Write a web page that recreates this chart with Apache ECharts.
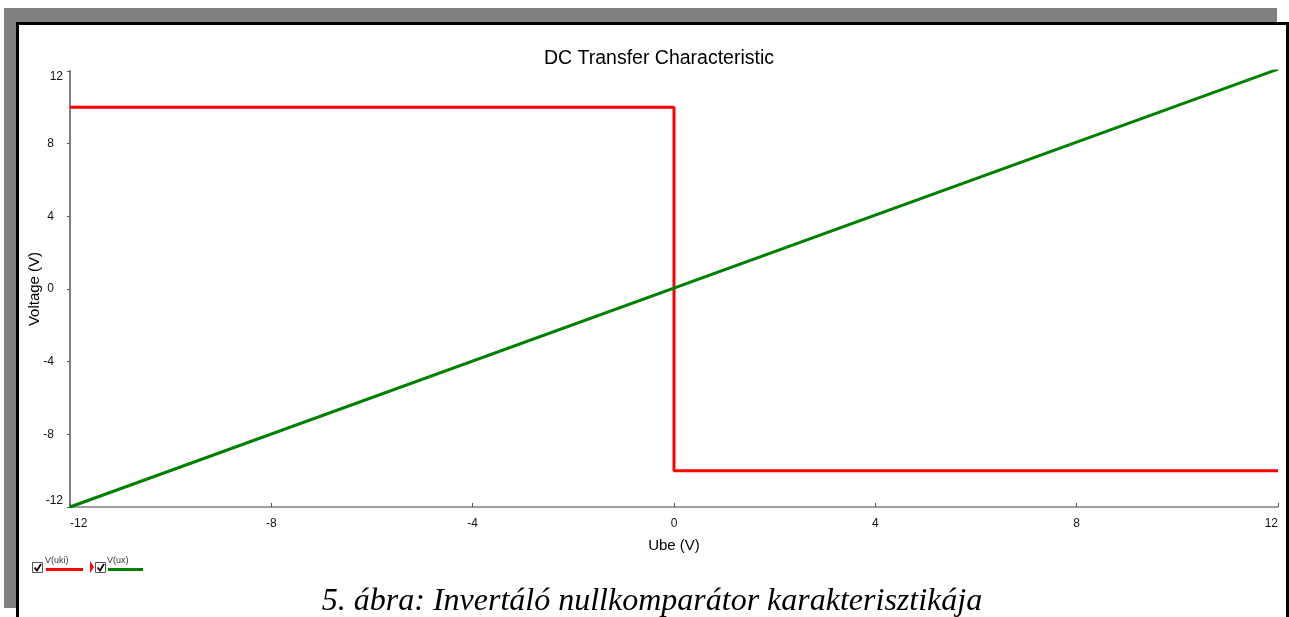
<!DOCTYPE html>
<html>
<head>
<meta charset="utf-8">
<script src="https://cdn.jsdelivr.net/npm/echarts@6/dist/echarts.min.js"></script>
<style>
html,body{margin:0;padding:0;background:#fff;}
#c{width:1289px;height:617px;}
</style>
</head>
<body>
<div id="c"></div>
<script>
const chartTitle = 'DC Transfer Characteristic';
const caption = '5. ábra: Invertáló nullkomparátor karakterisztikája';
const xTicks = [-12, -8, -4, 0, 4, 8, 12];
const yTicks = [-12, -8, -4, 0, 4, 8, 12];
const ukiX = [-12, 0, 0, 12];
const ukiY = [10, 10, -10, -10];
const uxX = [-12, 12];
const uxY = [-12, 12.1];
const seriesNames = ['V(uki)', 'V(ux)'];

const chart = echarts.init(document.getElementById('c'));
const font = '"Liberation Sans", Arial, sans-serif';
const pairs = (xs, ys) => xs.map((x, i) => [x, ys[i]]);

function checkbox(x, y) {
  return [
    {type: 'rect', shape: {x: x, y: y, width: 10, height: 10}, style: {fill: '#fff', stroke: '#555', lineWidth: 1}, z: 10},
    {type: 'polyline', shape: {points: [[x + 2, y + 5], [x + 4.5, y + 8], [x + 8.5, y + 1.5]]}, style: {stroke: '#000', lineWidth: 1.8, fill: null}, z: 10}
  ];
}

const yMin = yTicks[0], yMax = yTicks[yTicks.length - 1];

chart.setOption({
  animation: false,
  backgroundColor: '#fff',
  title: {
    text: chartTitle, left: 654, top: 44, textAlign: 'center',
    textStyle: {fontFamily: font, fontSize: 19.5, fontWeight: 'normal', color: '#000'}
  },
  grid: {left: 70, right: 11, top: 71, bottom: 110},
  xAxis: {
    type: 'value', min: xTicks[0], max: xTicks[xTicks.length - 1], interval: 4,
    name: 'Ube (V)', nameLocation: 'middle', nameGap: 31,
    nameTextStyle: {fontFamily: font, fontSize: 15, color: '#000'},
    axisLine: {show: true, onZero: false, lineStyle: {color: '#808080', width: 1.5}},
    axisTick: {show: true, inside: true, length: 4, lineStyle: {color: '#555'}},
    axisLabel: {fontFamily: font, fontSize: 12, color: '#111', margin: 11,
                alignMinLabel: 'left', alignMaxLabel: 'right'},
    splitLine: {show: false}
  },
  yAxis: {
    type: 'value', min: yMin, max: yMax, interval: 4,
    name: 'Voltage (V)', nameLocation: 'middle', nameGap: 28, nameRotate: 90,
    nameMoveOverlap: false,
    nameTextStyle: {fontFamily: font, fontSize: 15, color: '#000'},
    axisLine: {show: true, onZero: false, lineStyle: {color: '#808080', width: 2}},
    axisTick: {show: true, length: 3, lineStyle: {color: '#555'}},
    axisLabel: {fontFamily: font, fontSize: 12, color: '#111', margin: 7,
                verticalAlignMinLabel: 'bottom', verticalAlignMaxLabel: 'top',
                formatter: v => (v === yMin || v === yMax) ? '{e|' + v + '}' : '{m|' + v + '}',
                rich: {e: {fontFamily: font, fontSize: 12, color: '#111'},
                       m: {fontFamily: font, fontSize: 12, color: '#111', padding: [0, 9, 0, 0]}}},
    splitLine: {show: false}
  },
  series: [
    {name: seriesNames[0], type: 'line', data: pairs(ukiX, ukiY), symbol: 'none',
     lineStyle: {color: '#ff0000', width: 3}, z: 3},
    {name: seriesNames[1], type: 'line', data: pairs(uxX, uxY), symbol: 'none',
     lineStyle: {color: '#008000', width: 3}, z: 4}
  ],
  graphic: [
    {type: 'rect', shape: {x: 4, y: 8, width: 1273, height: 600}, style: {fill: '#808080'}, z: -10},
    {type: 'rect', shape: {x: 17.5, y: 23.5, width: 1270, height: 700}, style: {fill: '#fff', stroke: '#000', lineWidth: 3}, z: -9},
    ...checkbox(32.5, 562.5),
    {type: 'text', x: 45, y: 556, style: {text: seriesNames[0], font: '9px ' + font, fill: '#333'}, z: 10},
    {type: 'rect', shape: {x: 46, y: 568, width: 37, height: 3}, style: {fill: '#ff0000'}, z: 10},
    {type: 'polygon', shape: {points: [[90, 561], [94, 567], [90, 573]]}, style: {fill: '#ff0000'}, z: 10},
    ...checkbox(95.5, 562.5),
    {type: 'text', x: 107, y: 556, style: {text: seriesNames[1], font: '9px ' + font, fill: '#333'}, z: 10},
    {type: 'rect', shape: {x: 108, y: 568, width: 35, height: 3}, style: {fill: '#008000'}, z: 10},
    {type: 'text', x: 652, y: 602, style: {text: caption, font: 'italic 32px "Liberation Serif", "Times New Roman", serif', fill: '#000', textAlign: 'center', textVerticalAlign: 'middle'}, z: 10}
  ]
});
</script>
</body>
</html>
